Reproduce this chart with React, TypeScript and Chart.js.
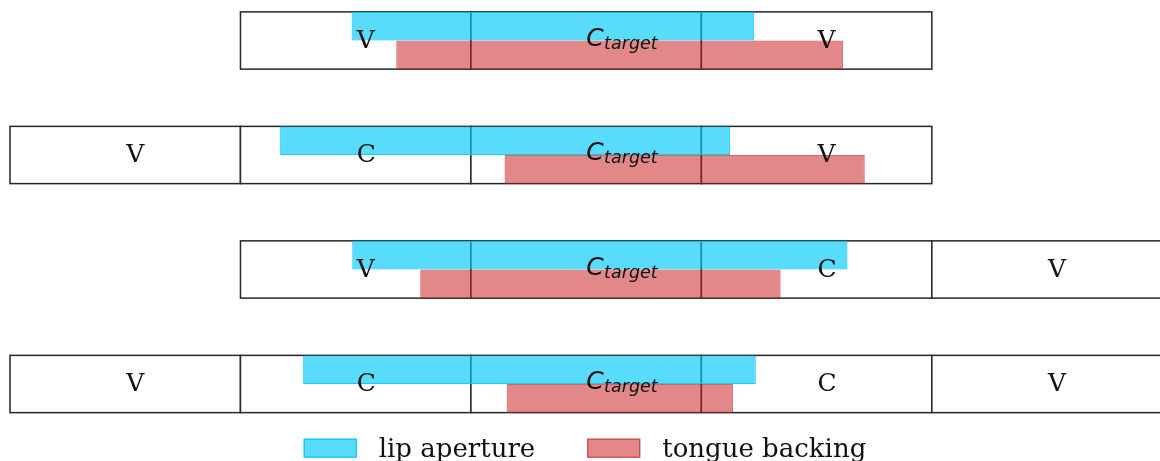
import React, { useEffect, useRef } from 'react';
import { Chart, registerables } from 'chart.js';

Chart.register(...registerables);

// ---- data ----
const rowNames = ['V C_target V', 'V C C_target V', 'V C_target C V', 'V C C_target C V'];
const rowStart = [1, 0, 1, 0];
const row0Segments = ['V', 'C_target', 'V'];
const row1Segments = ['V', 'C', 'C_target', 'V'];
const row2Segments = ['V', 'C_target', 'C', 'V'];
const row3Segments = ['V', 'C', 'C_target', 'C', 'V'];
const segments = [row0Segments, row1Segments, row2Segments, row3Segments];

const lipAperture: [number, number][] = [
  [1.482, 3.228],
  [1.17, 3.124],
  [1.485, 3.634],
  [1.272, 3.236],
];
const tongueBacking: [number, number][] = [
  [1.676, 3.615],
  [2.146, 3.709],
  [1.78, 3.344],
  [2.155, 3.138],
];
const seriesLabels = ['lip aperture', 'tongue backing'];
const xMin = 0;
const xMax = 4.99;

// ---- style ----
const CAT_PCT = 0.5;
const LIP_FILL = 'rgba(0,200,250,0.65)';
const LIP_BORDER = 'rgba(0,195,245,0.9)';
const TB_FILL = 'rgba(200,30,30,0.53)';
const TB_BORDER = 'rgba(190,30,30,0.68)';
const SERIF = '"DejaVu Serif", serif';
const SANS = '"DejaVu Sans", sans-serif';

const segmentPlugin = {
  id: 'segmentBoxes',
  beforeDatasetsDraw(chart: any) {
    const { ctx, scales } = chart;
    const x = scales.x;
    const y = scales.y;
    const half = ((y.getPixelForValue(1) - y.getPixelForValue(0)) * CAT_PCT) / 2;
    ctx.save();
    segments.forEach((segs, r) => {
      const yc = y.getPixelForValue(r);
      segs.forEach((_lab, i) => {
        const x0 = x.getPixelForValue(rowStart[r] + i);
        const x1 = x.getPixelForValue(rowStart[r] + i + 1);
        ctx.fillStyle = '#ffffff';
        ctx.fillRect(x0, yc - half, x1 - x0, 2 * half);
        ctx.strokeStyle = '#262626';
        ctx.lineWidth = 1.5;
        ctx.strokeRect(x0, yc - half, x1 - x0, 2 * half);
      });
    });
    ctx.restore();
  },
  afterDatasetsDraw(chart: any) {
    const { ctx, scales } = chart;
    const x = scales.x;
    const y = scales.y;
    ctx.save();
    ctx.fillStyle = '#111';
    ctx.textAlign = 'left';
    ctx.textBaseline = 'alphabetic';
    segments.forEach((segs, r) => {
      const yc = y.getPixelForValue(r);
      segs.forEach((lab, i) => {
        const xc = x.getPixelForValue(rowStart[r] + i + 0.5);
        if (lab.includes('_')) {
          const [main, sub] = lab.split('_');
          ctx.font = `italic 25px ${SANS}`;
          ctx.fillText(main, xc, yc + 5);
          const w = ctx.measureText(main).width;
          ctx.font = `italic 17.5px ${SANS}`;
          ctx.fillText(sub, xc + w + 0.5, yc + 8);
        } else {
          ctx.font = `25px ${SERIF}`;
          ctx.fillText(lab, xc + 1, yc + 7.2);
        }
      });
    });
    ctx.restore();
  },
  afterDraw(chart: any) {
    const { ctx, chartArea, height } = chart;
    const fills = [LIP_FILL, TB_FILL];
    const borders = [LIP_BORDER, TB_BORDER];
    const boxW = 53;
    const boxH = 19;
    const gapText = 22;
    const gapItem = 52;
    ctx.save();
    ctx.font = `26px ${SERIF}`;
    const widths = seriesLabels.map((t) => ctx.measureText(t).width);
    const total = widths.reduce((a, w) => a + boxW + gapText + w, 0) + gapItem * (seriesLabels.length - 1);
    let cx = (chartArea.left + chartArea.right) / 2 - total / 2;
    const boxTop = height - 22.3;
    const baseline = height - 4.5;
    seriesLabels.forEach((t, i) => {
      ctx.fillStyle = '#ffffff';
      ctx.fillRect(cx, boxTop, boxW, boxH);
      ctx.fillStyle = fills[i];
      ctx.fillRect(cx, boxTop, boxW, boxH);
      ctx.strokeStyle = borders[i];
      ctx.lineWidth = 1.2;
      ctx.strokeRect(cx + 0.5, boxTop + 0.5, boxW - 1, boxH - 1);
      ctx.fillStyle = '#111';
      ctx.textAlign = 'left';
      ctx.textBaseline = 'alphabetic';
      ctx.fillText(t, cx + boxW + gapText, baseline);
      cx += boxW + gapText + widths[i] + gapItem;
    });
    ctx.restore();
  },
};

export default function App() {
  const ref = useRef<HTMLCanvasElement | null>(null);
  useEffect(() => {
    if (!ref.current) return;
    const chart = new Chart(ref.current, {
      type: 'bar',
      data: {
        labels: rowNames,
        datasets: [
          {
            label: seriesLabels[0],
            data: lipAperture as any,
            backgroundColor: LIP_FILL,
            borderColor: LIP_BORDER,
            borderWidth: 1,
            borderSkipped: false,
            clip: false as any,
          },
          {
            label: seriesLabels[1],
            data: tongueBacking as any,
            backgroundColor: TB_FILL,
            borderColor: TB_BORDER,
            borderWidth: 1,
            borderSkipped: false,
            clip: false as any,
          },
        ],
      },
      options: {
        indexAxis: 'y',
        responsive: false,
        animation: false,
        devicePixelRatio: 1,
        categoryPercentage: CAT_PCT,
        barPercentage: 1,
        layout: { padding: { left: 10, right: 0, top: 40.5, bottom: 77 } },
        scales: {
          x: { type: 'linear', min: xMin, max: xMax, display: false },
          y: { type: 'category', offset: false, display: false },
        },
        plugins: {
          legend: { display: false },
          tooltip: { enabled: false },
          title: { display: false },
        },
      } as any,
      plugins: [segmentPlugin],
    });
    return () => chart.destroy();
  }, []);
  return (
    <div style={{ position: 'fixed', left: 0, top: 0, width: 1160, height: 461, background: '#fff' }}>
      <canvas ref={ref} width={1160} height={461} style={{ display: 'block' }} />
    </div>
  );
}
